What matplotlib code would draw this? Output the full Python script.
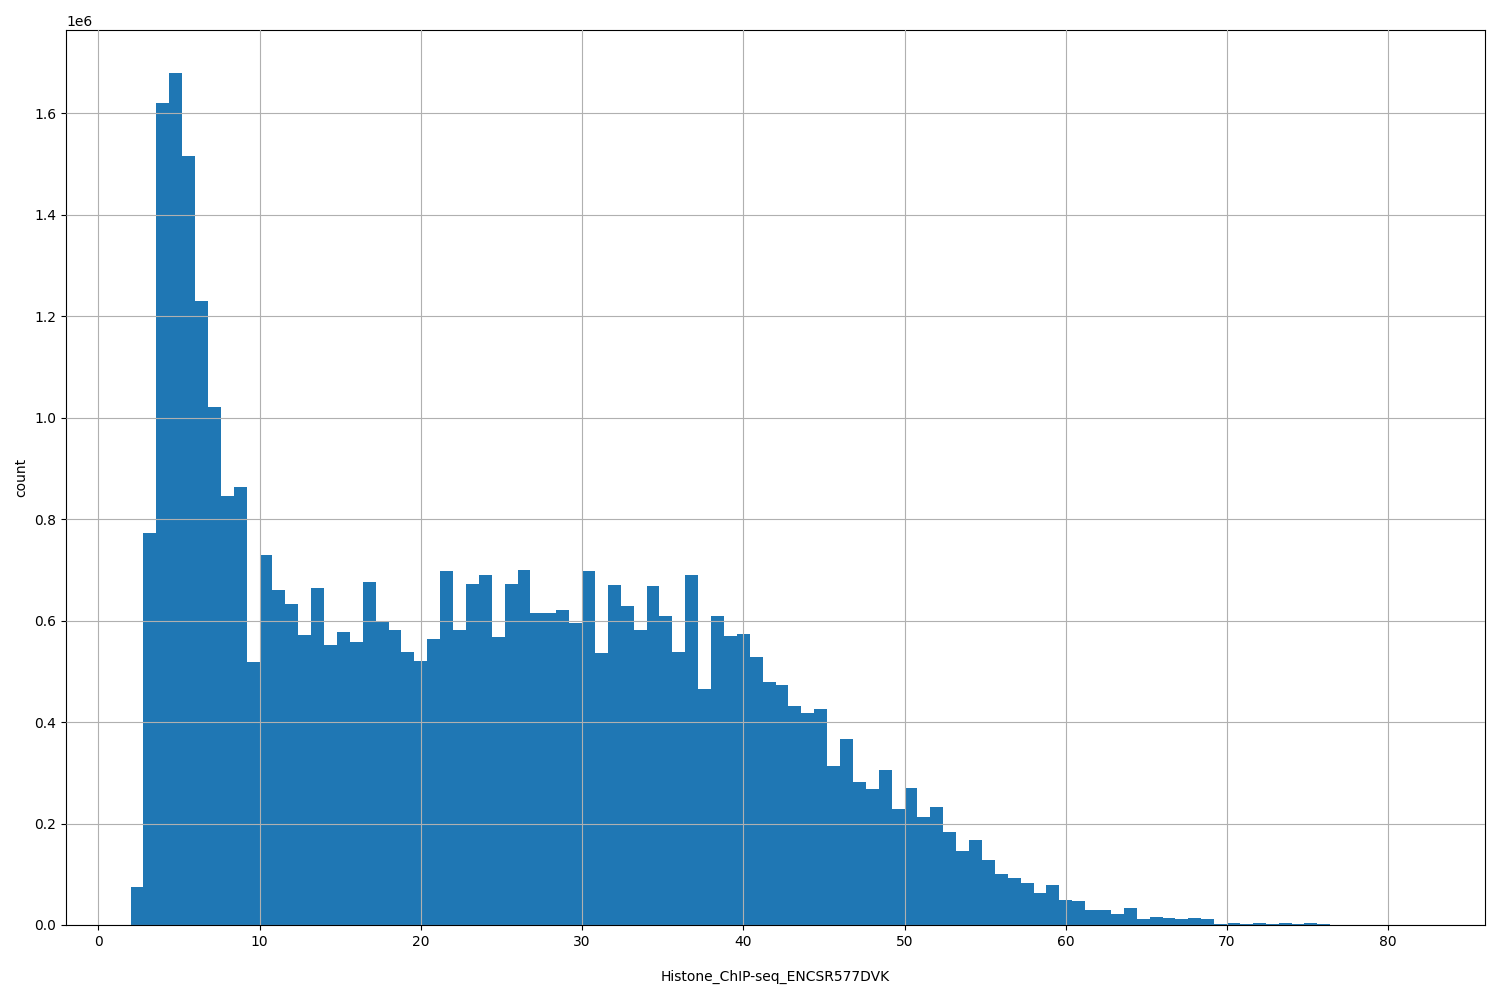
import numpy as np
import matplotlib
matplotlib.use("Agg")
import matplotlib.pyplot as plt

bin_start = 2.0
bin_end = 82.0
n_bins = 100
counts_m = [0.075, 0.773, 1.62, 1.68, 1.515, 1.23, 1.02, 0.845, 0.863, 0.518,
            0.73, 0.66, 0.632, 0.572, 0.665, 0.551, 0.578, 0.557, 0.677, 0.598,
            0.582, 0.538, 0.521, 0.564, 0.698, 0.582, 0.672, 0.690, 0.568, 0.672,
            0.700, 0.615, 0.615, 0.621, 0.596, 0.698, 0.536, 0.670, 0.629, 0.582,
            0.668, 0.609, 0.538, 0.690, 0.465, 0.609, 0.570, 0.574, 0.529, 0.479,
            0.473, 0.432, 0.418, 0.426, 0.313, 0.366, 0.282, 0.268, 0.305, 0.229,
            0.270, 0.213, 0.232, 0.183, 0.146, 0.168, 0.128, 0.100, 0.093, 0.083,
            0.063, 0.079, 0.050, 0.047, 0.030, 0.030, 0.022, 0.033, 0.012, 0.016,
            0.014, 0.012, 0.013, 0.011, 0.002, 0.004, 0.002, 0.004, 0.002, 0.004,
            0.001, 0.004, 0.002, 0.0001, 0.0001, 0.0001, 0.0001, 0.0001, 0.0001, 0.0001]

edges = np.linspace(bin_start, bin_end, n_bins + 1)
centers = (edges[:-1] + edges[1:]) / 2
weights = np.array(counts_m) * 1e6

fig, ax = plt.subplots(figsize=(15, 10), dpi=100)
ax.hist(centers, bins=edges, weights=weights, color="#1f77b4")
ax.grid(True)
ax.set_axisbelow(False)
ax.set_xlabel("Histone_ChIP-seq_ENCSR577DVK", labelpad=15)
ax.set_ylabel("count")
fig.subplots_adjust(left=0.044, right=0.99, top=0.97, bottom=0.075)
fig.savefig("out.png")
